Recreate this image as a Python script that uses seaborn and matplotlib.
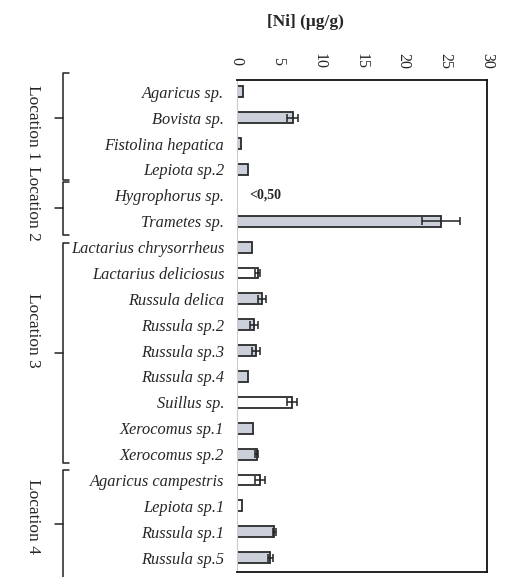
import matplotlib
matplotlib.use("Agg")
import matplotlib.pyplot as plt
import matplotlib.transforms as mtransforms
from matplotlib.lines import Line2D
import seaborn as sns
import pandas as pd

# values
species = [
    "Agaricus sp.", "Bovista sp.", "Fistolina hepatica", "Lepiota sp.2",
    "Hygrophorus sp.", "Trametes sp.",
    "Lactarius chrysorrheus", "Lactarius deliciosus", "Russula delica",
    "Russula sp.2", "Russula sp.3", "Russula sp.4", "Suillus sp.",
    "Xerocomus sp.1", "Xerocomus sp.2",
    "Agaricus campestris", "Lepiota sp.1", "Russula sp.1", "Russula sp.5",
]
ni = [0.7, 6.7, 0.5, 1.3, 0.0, 24.5,
      1.8, 2.5, 3.0, 2.1, 2.3, 1.3, 6.6, 1.9, 2.4,
      2.8, 0.6, 4.5, 4.0]
ni_err = [0.0, 0.7, 0.0, 0.0, 0.0, 2.3,
          0.0, 0.3, 0.5, 0.5, 0.5, 0.0, 0.6, 0.0, 0.2,
          0.6, 0.0, 0.2, 0.3]
white_bars = ["Lactarius deliciosus", "Suillus sp.", "Agaricus campestris", "Lepiota sp.1"]
locations = ["Location 1", "Location 2", "Location 3", "Location 4"]
xticks = [0, 5, 10, 15, 20, 25, 30]

# bracket spans / tip / label centre, in row units
bracket_spans = [(-0.73, 3.4), (3.5, 5.55), (5.86, 14.36), (14.6, 19.2)]
bracket_tips = [1.0, 4.5, 10.1, 16.7]
label_centres = [1.2, 4.3, 9.2, 16.4]

df = pd.DataFrame({"species": species, "ni": ni, "err": ni_err})

sns.set_style("white")
plt.rcParams["font.family"] = ["Liberation Serif", "DejaVu Serif"]

fig = plt.figure(figsize=(5.06, 5.77), dpi=100)
ax = fig.add_axes([0.468, 0.009, 0.494, 0.852])

sns.barplot(data=df, x="ni", y="species", orient="h", color="#c8cfdd",
            edgecolor="#2a2a2a", linewidth=1.3, width=0.42, ax=ax)

for patch, name, v in zip(ax.patches, species, ni):
    if name in white_bars:
        patch.set_facecolor("white")
    if v == 0:
        patch.set_visible(False)

for i, (v, e) in enumerate(zip(ni, ni_err)):
    if e > 0:
        ax.errorbar(v, i, xerr=e, fmt="none", ecolor="#222222",
                    elinewidth=1.1, capsize=3, capthick=1.1)

ax.text(1.5, 4, "<0,50", fontsize=10, fontweight="bold", va="center", ha="left")

ax.set_xlim(0, 30)
ax.set_ylim(18.55, -0.45)
ax.set_xticks(xticks)
ax.xaxis.tick_top()
ax.tick_params(axis="x", length=0, pad=14, labelsize=11.5)
for lab in ax.get_xticklabels():
    lab.set_rotation(-90)
    lab.set_va("center")
ax.tick_params(axis="y", length=0, pad=9)
for lab in ax.get_yticklabels():
    lab.set_fontstyle("italic")
    lab.set_fontsize(11.8)
ax.set_xlabel("")
ax.set_ylabel("")
for s in ["top", "right", "bottom"]:
    ax.spines[s].set_color("#111111")
    ax.spines[s].set_linewidth(1.3)
ax.spines["left"].set_color("#cccccc")
ax.spines["left"].set_linewidth(0.8)

fig.text(0.603, 0.962, "[Ni] (\u03bcg/g)", fontsize=12.5, fontweight="bold",
         ha="center", va="center")

# location brackets on the left
trans = mtransforms.blended_transform_factory(fig.transFigure, ax.transData)
bx, tip, lx = 0.124, 0.108, 0.065
for name, (y0, y1), ty, ly in zip(locations, bracket_spans, bracket_tips, label_centres):
    fig.add_artist(Line2D([bx + 0.012, bx, bx, bx + 0.012], [y0, y0, y1, y1],
                          transform=trans, color="#222222", lw=1.1, clip_on=False))
    fig.add_artist(Line2D([tip, bx], [ty, ty], transform=trans,
                          color="#222222", lw=1.1, clip_on=False))
    fig.text(lx, ly, name, transform=trans, rotation=-90, fontsize=12.5,
             ha="center", va="center")

fig.savefig("out.png", dpi=100)
